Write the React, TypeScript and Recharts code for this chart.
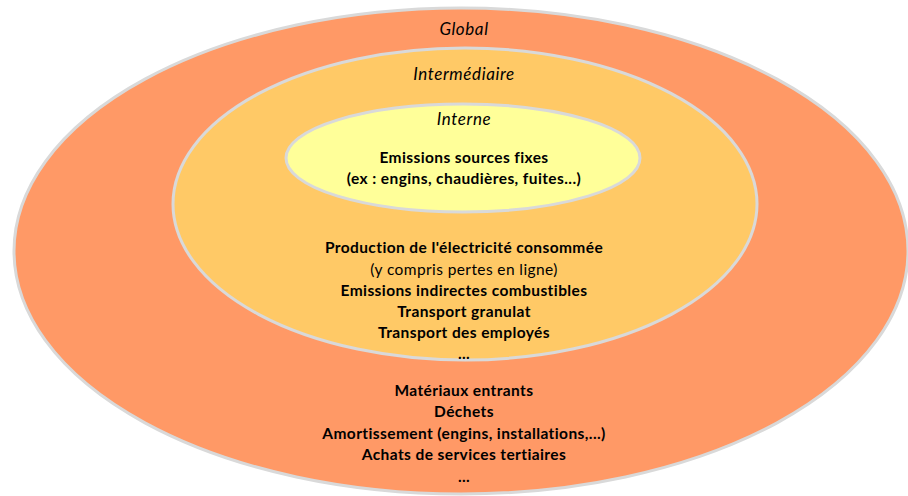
import { ScatterChart, Scatter, XAxis, YAxis } from "recharts";

const W = 908;
const H = 496;

// rings, drawn outer -> inner (centre + radii in chart units)
const ringNames = ["Global", "Intermédiaire", "Interne"];
const ringX = [461, 465, 463];
const ringY = [251, 204, 158];
const ringRx = [447, 292, 177];
const ringRy = [243, 156, 54];
const ringFill = ["#ff9966", "#ffc966", "#ffff99"];

// text lines
const lineText = [
  "Global",
  "Intermédiaire",
  "Interne",
  "Emissions sources fixes",
  "(ex : engins, chaudières, fuites...)",
  "Production de l'électricité consommée",
  "(y compris pertes en ligne)",
  "Emissions indirectes combustibles",
  "Transport granulat",
  "Transport des employés",
  "...",
  "Matériaux entrants",
  "Déchets",
  "Amortissement (engins, installations,...)",
  "Achats de services tertiaires",
  "...",
];
const lineY = [28, 73, 118, 157, 178, 247, 269, 290, 311, 332, 353, 390, 411, 433, 454, 476];
const lineStyle = ["i", "i", "i", "b", "b", "b", "r", "b", "b", "b", "b", "b", "b", "b", "b", "b"];
const TEXT_X = 464;

const rings = ringNames.map((name, i) => ({
  name,
  x: ringX[i],
  y: ringY[i],
  rx: ringRx[i],
  ry: ringRy[i],
  fill: ringFill[i],
}));

const lines = lineText.map((t, i) => ({ t, x: TEXT_X, y: lineY[i], s: lineStyle[i] }));

// 1 unit == 1px because the plot area spans the whole chart
const kx = W / W;
const ky = H / H;

const RingShape = (props: any) => {
  const p = props.payload;
  return (
    <ellipse
      cx={props.cx}
      cy={props.cy}
      rx={p.rx * kx}
      ry={p.ry * ky}
      fill={p.fill}
      stroke="#d9d9d9"
      strokeWidth={3}
    />
  );
};

const TextShape = (props: any) => {
  const p = props.payload;
  const italic = p.s === "i";
  return (
    <text
      x={props.cx}
      y={props.cy}
      textAnchor="middle"
      dominantBaseline="central"
      fontFamily="Lato, 'Open Sans', sans-serif"
      fontSize={italic ? 17 : 15.5}
      letterSpacing={italic ? 0.6 : 0.4}
      fontWeight={p.s === "b" ? 700 : 400}
      fontStyle={italic ? "italic" : "normal"}
      fill="#000"
    >
      {p.t}
    </text>
  );
};

export default function App() {
  return (
    <div style={{ position: "absolute", left: 0, top: 0, width: W, height: H, background: "#fff" }}>
      <ScatterChart width={W} height={H} margin={{ top: 0, right: 0, bottom: 0, left: 0 }}>
        <XAxis type="number" dataKey="x" domain={[0, W]} hide />
        <YAxis type="number" dataKey="y" domain={[0, H]} reversed hide />
        <Scatter data={rings} shape={RingShape} isAnimationActive={false} />
        <Scatter data={lines} shape={TextShape} isAnimationActive={false} />
      </ScatterChart>
    </div>
  );
}
